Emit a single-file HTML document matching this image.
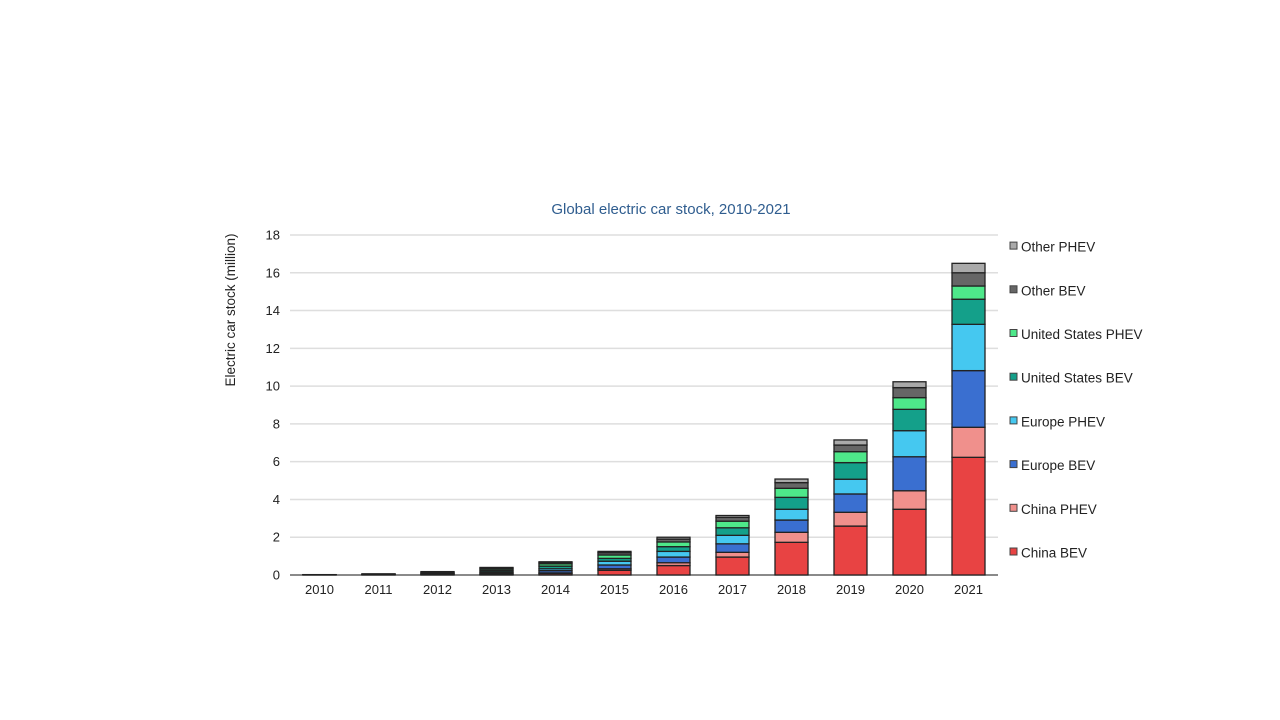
<!DOCTYPE html>
<html><head><meta charset="utf-8"><style>
html,body{margin:0;padding:0;background:#fff;}
svg{display:block;font-family:"Liberation Sans",Arial,sans-serif;}
</style></head><body>
<svg id="chart" width="1280" height="720" viewBox="0 0 1280 720">
<text x="671" y="214" text-anchor="middle" font-size="15" fill="#2f5d8f">Global electric car stock, 2010-2021</text>
<text transform="translate(235,310) rotate(-90)" text-anchor="middle" font-size="13.5" fill="#222">Electric car stock (million)</text>
<g id="grid"></g><g id="bars"></g><g id="legend"></g>
</svg>
<script>
const years=["2010","2011","2012","2013","2014","2015","2016","2017","2018","2019","2020","2021"];
const seriesNames=["China BEV","China PHEV","Europe BEV","Europe PHEV","United States BEV","United States PHEV","Other BEV","Other PHEV"];
const seriesColors=["#e84343","#f0908c","#3a6fd0","#45c8f0","#14a08a","#4ee88a","#666666","#aaaaaa"];
const chinaBEV=[0.005,0.01,0.02,0.03,0.08,0.25,0.5,0.95,1.73,2.59,3.48,6.23];
const chinaPHEV=[0,0,0,0.01,0.03,0.08,0.15,0.25,0.53,0.73,0.98,1.59];
const europeBEV=[0.005,0.01,0.03,0.06,0.12,0.2,0.3,0.45,0.65,0.97,1.8,3.0];
const europePHEV=[0,0.005,0.01,0.05,0.1,0.2,0.3,0.45,0.57,0.78,1.38,2.45];
const usBEV=[0.002,0.01,0.03,0.08,0.14,0.15,0.25,0.4,0.63,0.88,1.13,1.33];
const usPHEV=[0.002,0.01,0.03,0.08,0.12,0.18,0.25,0.35,0.48,0.58,0.62,0.7];
const otherBEV=[0.004,0.01,0.04,0.06,0.07,0.12,0.15,0.2,0.3,0.35,0.53,0.7];
const otherPHEV=[0.002,0.005,0.02,0.03,0.04,0.07,0.1,0.1,0.19,0.27,0.31,0.5];
const yTicks=[0,2,4,6,8,10,12,14,16,18];
const series=[chinaBEV,chinaPHEV,europeBEV,europePHEV,usBEV,usPHEV,otherBEV,otherPHEV];
const NS="http://www.w3.org/2000/svg";
const x0=290,x1=998,yBase=575,yTop=235,yMax=18;
const yScale=v=>yBase-(v/yMax)*(yBase-yTop);
const step=(x1-x0)/years.length;
const xCenter=i=>x0+step*(i+0.5);
const bw=33;
function mk(t,a){const e=document.createElementNS(NS,t);for(const k in a)e.setAttribute(k,a[k]);return e;}
const grid=document.getElementById('grid');
yTicks.forEach(t=>{
  const y=yScale(t);
  if(t>0){const l=mk('line',{x1:x0,x2:x1,y1:y,y2:y,stroke:'#dedede','stroke-width':1.5});
  
  grid.appendChild(l);}
  const tx=mk('text',{x:280,y:y+4.5,'text-anchor':'end','font-size':13,fill:'#222'});
  tx.textContent=t;
  
  grid.appendChild(tx);
});
const ax=mk('line',{x1:x0,x2:x1,y1:yBase,y2:yBase,stroke:'#444','stroke-width':1.2});

grid.appendChild(ax);
years.forEach((yr,i)=>{
  const tx=mk('text',{x:xCenter(i),y:594,'text-anchor':'middle','font-size':13,fill:'#222'});
  tx.textContent=yr;
  
  grid.appendChild(tx);
});
const bars=document.getElementById('bars');
years.forEach((yr,i)=>{
  let cum=0;
  series.forEach((s,j)=>{
    const v=s[i];const ya=yScale(cum+v),yb=yScale(cum);cum+=v;
    const r=mk('rect',{x:xCenter(i)-bw/2,y:ya,width:bw,height:Math.max(0,yb-ya),fill:seriesColors[j],stroke:'#222','stroke-width':1.3});
    
    bars.appendChild(r);
  });
});
const lg=document.getElementById('legend');
seriesNames.forEach((n,j)=>{
  const y=553-(j*43.7);
  const g=mk('g',{});
  
  
  g.appendChild(mk('rect',{x:1010,y:y-5,width:7,height:7,fill:seriesColors[j],stroke:'#444','stroke-width':1}));
  const t=mk('text',{x:1021,y:y+4.5,'font-size':13.5,fill:'#222'});t.textContent=n;g.appendChild(t);
  lg.appendChild(g);
});
</script>
</body></html>
